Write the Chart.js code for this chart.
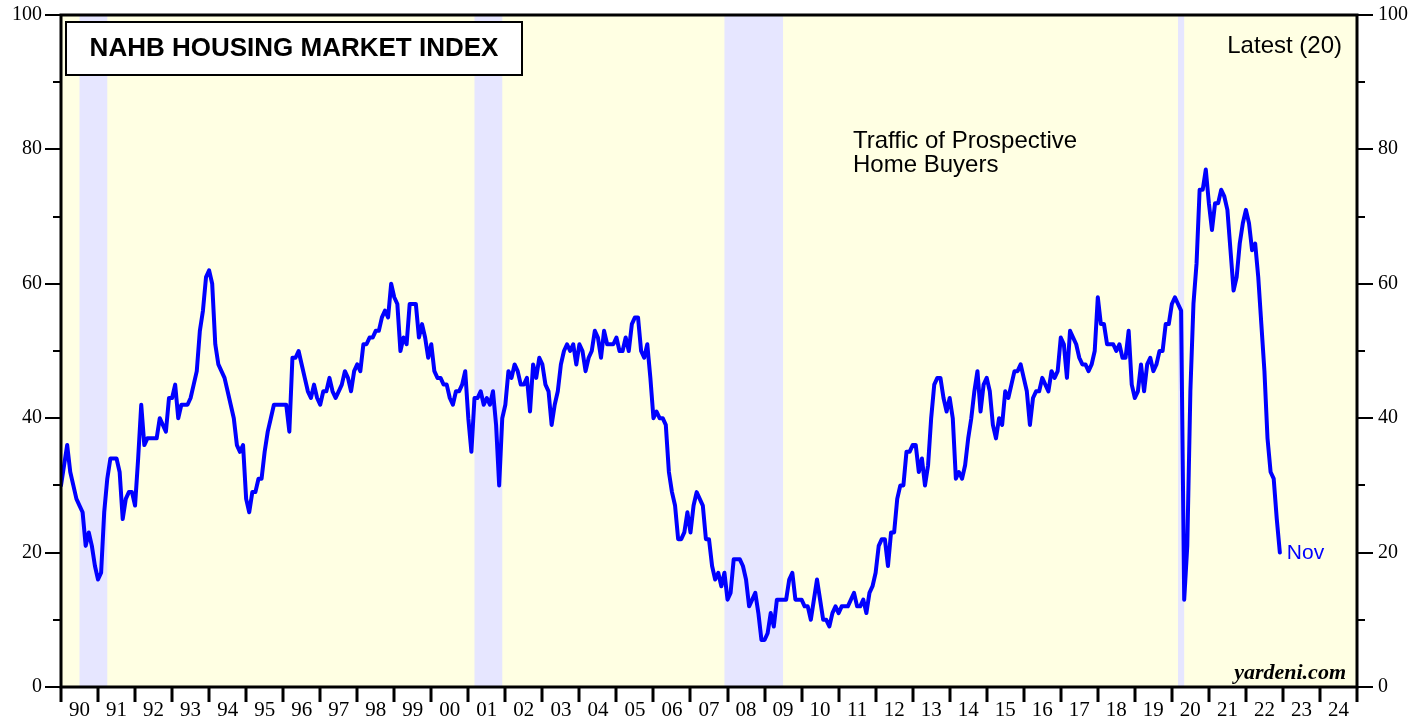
<!DOCTYPE html>
<html>
<head>
<meta charset="utf-8">
<script src="https://cdn.jsdelivr.net/npm/chart.js@4.4.1/dist/chart.umd.min.js"></script>
<style>
  html, body { margin: 0; padding: 0; background: #fff; }
  canvas { display: block; }
</style>
</head>
<body>
<canvas id="nahbChart" width="1427" height="719"></canvas>
<script>
// NAHB traffic of prospective home buyers, monthly, plotted at month end.
// First value is Dec 1989, last value is Nov 2022.
const traffic1990s = [
  30,
  33, 36, 32, 30, 28, 27, 26, 21, 23, 21, 18, 16,   // 1990
  17, 26, 31, 34, 34, 34, 32, 25, 28, 29, 29, 27,   // 1991
  34, 42, 36, 37, 37, 37, 37, 40, 39, 38, 43, 43,   // 1992
  45, 40, 42, 42, 42, 43, 45, 47, 53, 56, 61, 62,   // 1993
  60, 51, 48, 47, 46, 44, 42, 40, 36, 35, 36, 28,   // 1994
  26, 29, 29, 31, 31, 35, 38, 40, 42, 42, 42, 42,   // 1995
  42, 38, 49, 49, 50, 48, 46, 44, 43, 45, 43, 42,   // 1996
  44, 44, 46, 44, 43, 44, 45, 47, 46, 44, 47, 48,   // 1997
  47, 51, 51, 52, 52, 53, 53, 55, 56, 55, 60, 58,   // 1998
  57, 50, 52, 51, 57, 57, 57, 52, 54, 52, 49, 51    // 1999
];
const traffic2000s = [
  47, 46, 46, 45, 45, 43, 42, 44, 44, 45, 47, 40,   // 2000
  35, 43, 43, 44, 42, 43, 42, 44, 39, 30, 40, 42,   // 2001
  47, 46, 48, 47, 45, 45, 46, 41, 48, 46, 49, 48,   // 2002
  45, 44, 39, 42, 44, 48, 50, 51, 50, 51, 48, 51,   // 2003
  50, 47, 49, 50, 53, 52, 49, 53, 51, 51, 51, 52,   // 2004
  50, 50, 52, 50, 54, 55, 55, 50, 49, 51, 46, 40,   // 2005
  41, 40, 40, 39, 32, 29, 27, 22, 22, 23, 26, 23,   // 2006
  27, 29, 28, 27, 22, 22, 18, 16, 17, 15, 17, 13,   // 2007
  14, 19, 19, 19, 18, 16, 12, 13, 14, 11, 7, 7,     // 2008
  8, 11, 9, 13, 13, 13, 13, 16, 17, 13, 13, 13      // 2009
];
const traffic2010s = [
  12, 12, 10, 13, 16, 13, 10, 10, 9, 11, 12, 11,    // 2010
  12, 12, 12, 13, 14, 12, 12, 13, 11, 14, 15, 17,   // 2011
  21, 22, 22, 18, 23, 23, 28, 30, 30, 35, 35, 36,   // 2012
  36, 32, 34, 30, 33, 40, 45, 46, 46, 43, 41, 43,   // 2013
  40, 31, 32, 31, 33, 37, 40, 44, 47, 41, 45, 46,   // 2014
  44, 39, 37, 40, 39, 44, 43, 45, 47, 47, 48, 46,   // 2015
  44, 39, 43, 44, 44, 46, 45, 44, 47, 46, 47, 52,   // 2016
  51, 46, 53, 52, 51, 49, 48, 48, 47, 48, 50, 58,   // 2017
  54, 54, 51, 51, 51, 50, 51, 49, 49, 53, 45, 43,   // 2018
  44, 48, 44, 48, 49, 47, 48, 50, 50, 54, 54, 57    // 2019
];
const traffic2020s = [
  58, 57, 56, 13, 21, 44, 57, 63, 74, 74, 77, 72,   // 2020
  68, 72, 72, 74, 73, 71, 65, 59, 61, 66, 69, 71,   // 2021
  69, 65, 66, 61, 54, 47, 37, 32, 31, 25, 20        // 2022 (to Nov)
];

// recessions (decimal years)
const recessionStarts = [1990.5, 2001.167, 2007.917, 2020.167];
const recessionEnds   = [1991.25, 2001.917, 2009.5, 2020.333];

const yearLabels = ['90','91','92','93','94','95','96','97','98','99',
                    '00','01','02','03','04','05','06','07','08','09',
                    '10','11','12','13','14','15','16','17','18','19',
                    '20','21','22','23','24'];
const firstYear = 1990;
const lastYear = 2025;
const yTicks = [0, 10, 20, 30, 40, 50, 60, 70, 80, 90, 100];

const traffic = traffic1990s.concat(traffic2000s, traffic2010s, traffic2020s);
const points = traffic.map((v, i) => ({ x: firstYear + i / 12, y: v }));

const decorations = {
  id: 'decorations',
  beforeDatasetsDraw(chart) {
    const { ctx, chartArea: a, scales: { x } } = chart;
    ctx.save();
    ctx.fillStyle = '#FFFFE3';
    ctx.fillRect(a.left, a.top, a.right - a.left, a.bottom - a.top);
    ctx.fillStyle = '#E6E6FF';
    recessionStarts.forEach((s, i) => {
      const x0 = x.getPixelForValue(s);
      const x1 = x.getPixelForValue(recessionEnds[i]);
      ctx.fillRect(x0, a.top, x1 - x0, a.bottom - a.top);
    });
    ctx.restore();
  },
  afterDraw(chart) {
    const { ctx, chartArea: a, scales: { x, y } } = chart;
    ctx.save();

    // frame
    ctx.strokeStyle = '#000';
    ctx.lineWidth = 3;
    ctx.strokeRect(a.left, a.top, a.right - a.left, a.bottom - a.top);

    // y ticks, both sides
    ctx.lineWidth = 2;
    ctx.fillStyle = '#000';
    ctx.font = '20px "Liberation Serif", "Times New Roman", serif';
    ctx.textBaseline = 'middle';
    yTicks.forEach(v => {
      const py = Math.round(y.getPixelForValue(v));
      const major = v % 20 === 0;
      const len = major ? 16 : 8;
      ctx.beginPath();
      ctx.moveTo(a.left - len, py); ctx.lineTo(a.left, py);
      ctx.moveTo(a.right, py); ctx.lineTo(a.right + len, py);
      ctx.stroke();
      if (major) {
        ctx.textAlign = 'right';
        ctx.fillText(String(v), a.left - 19, py);
        ctx.textAlign = 'left';
        ctx.fillText(String(v), a.right + 21, py);
      }
    });

    // x ticks and year labels
    ctx.lineWidth = 3;
    for (let yr = firstYear; yr <= lastYear; yr++) {
      const px = Math.round(x.getPixelForValue(yr));
      ctx.beginPath();
      ctx.moveTo(px, a.bottom); ctx.lineTo(px, a.bottom + 15);
      ctx.stroke();
    }
    ctx.font = '21px "Liberation Serif", "Times New Roman", serif';
    ctx.textAlign = 'center';
    yearLabels.forEach((lbl, i) => {
      ctx.fillText(lbl, x.getPixelForValue(firstYear + i + 0.5), a.bottom + 23);
    });

    // title box
    ctx.fillStyle = '#fff';
    ctx.fillRect(66, 22, 456, 53);
    ctx.lineWidth = 2;
    ctx.strokeRect(66, 22, 456, 53);
    ctx.fillStyle = '#000';
    ctx.font = 'bold 26px "Liberation Sans", Arial, sans-serif';
    ctx.textAlign = 'center';
    ctx.fillText('NAHB HOUSING MARKET INDEX', 294, 49);

    // notes
    ctx.font = '24px "Liberation Sans", Arial, sans-serif';
    ctx.textAlign = 'right';
    ctx.fillText('Latest (20)', 1342, 46);
    ctx.textAlign = 'left';
    ctx.fillText('Traffic of Prospective', 853, 141);
    ctx.fillText('Home Buyers', 853, 165);

    // last value label
    const last = points[points.length - 1];
    ctx.fillStyle = '#0000FF';
    ctx.font = '21px "Liberation Sans", Arial, sans-serif';
    ctx.fillText('Nov', x.getPixelForValue(last.x) + 7, y.getPixelForValue(last.y) + 1);

    ctx.fillStyle = '#000';
    ctx.font = 'italic bold 22px "Liberation Serif", "Times New Roman", serif';
    ctx.textAlign = 'right';
    ctx.fillText('yardeni.com', 1346, 673);

    ctx.restore();
  }
};

new Chart(document.getElementById('nahbChart'), {
  type: 'line',
  data: {
    datasets: [{
      label: 'Traffic of Prospective Home Buyers',
      data: points,
      borderColor: '#0000FF',
      borderWidth: 4,
      borderJoinStyle: 'round',
      borderCapStyle: 'round',
      pointRadius: 0,
      tension: 0,
      fill: false,
      clip: 0
    }]
  },
  options: {
    responsive: false,
    devicePixelRatio: 1,
    animation: false,
    layout: { padding: { left: 61, right: 70, top: 15, bottom: 32 } },
    plugins: { legend: { display: false }, tooltip: { enabled: false } },
    scales: {
      x: { type: 'linear', min: firstYear, max: lastYear, display: false },
      y: { min: 0, max: 100, display: false }
    }
  },
  plugins: [decorations]
});
</script>
</body>
</html>
